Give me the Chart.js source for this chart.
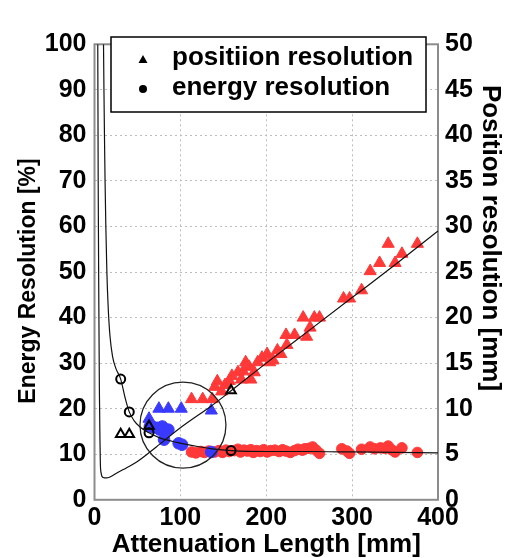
<!DOCTYPE html>
<html>
<head>
<meta charset="utf-8">
<script src="https://cdn.jsdelivr.net/npm/chart.js@4.4.0/dist/chart.umd.min.js"></script>
<style>
  html,body{margin:0;padding:0;background:#fff;}
  #wrap{position:relative;width:508px;height:558px;}
</style>
</head>
<body>
<div id="wrap"><canvas id="chart" width="508" height="558"></canvas></div>
<script>
// values
// x = attenuation length [mm]; energy in %, position in mm (right axis)
const redTriX = [113, 126, 137, 140, 143, 148, 152, 157, 160, 167, 171, 173, 176, 180, 182, 186, 190, 195, 201, 204, 208, 213, 217, 223, 224, 233, 243, 247, 251, 256, 262, 290, 297, 311, 321, 332, 342, 350, 358, 376];
const redTriY = [11.05, 11.05, 11.05, 12.4, 13.0, 11.9, 12.6, 13.05, 13.6, 14.0, 13.2, 14.1, 15.1, 14.6, 13.2, 14.0, 15.1, 15.6, 16.0, 15.1, 15.3, 16.4, 16.0, 18.1, 17.0, 18.1, 20.0, 17.9, 18.9, 20.0, 20.0, 22.1, 22.1, 23.0, 25.1, 26.0, 28.1, 26.0, 27.0, 28.1];

const redDotX = [113, 118, 124, 128, 133, 140, 145, 149, 153, 157, 163, 167, 170, 174, 178, 182, 185, 189, 193, 197, 201, 205, 210, 215, 219, 223, 228, 233, 237, 242, 245, 250, 254, 258, 262, 288, 294, 297, 311, 321, 326, 333, 338, 342, 346, 350, 358, 376];
const redDotY = [10.5, 10.3, 10.6, 10.4, 10.7, 10.5, 10.8, 10.4, 10.9, 10.6, 10.8, 11.1, 10.5, 10.9, 10.7, 11.0, 10.4, 10.8, 10.6, 11.0, 10.5, 10.8, 10.9, 10.6, 11.0, 10.7, 10.4, 10.8, 11.1, 10.9, 11.2, 11.3, 11.6, 10.9, 10.2, 11.2, 10.7, 10.2, 11.1, 11.6, 11.2, 11.4, 11.3, 11.8, 11.0, 10.5, 11.4, 10.4];

const blueTriX = [63.5, 75, 86, 101, 136];
const blueTriY = [8.9, 10.0, 10.0, 10.0, 9.8];

const blueDotX = [64.5, 68, 73, 76, 79, 83, 86, 81, 98, 102, 136];
const blueDotY = [16.1, 16.0, 15.8, 15.4, 16.1, 15.3, 15.4, 13.2, 12.4, 12.1, 10.5];

const openTriX = [30.5, 40.5, 63.5, 159];
const openTriY = [7.2, 7.2, 8.1, 12.0];
const openDotX = [30.5, 40.5, 63.5, 159];
const openDotY = [26.5, 19.3, 14.7, 10.8];

const energyCurveX = [10.5, 11, 11.6, 12.3, 13.2, 14.4, 16, 18, 21, 25, 30.5, 35.5, 40.5, 46, 53, 63.5, 76, 96, 120, 137, 160, 200, 250, 300, 350, 400];
const energyCurveY = [100, 90, 80, 70, 60, 50, 42, 36, 31.5, 28.8, 26.5, 22.5, 19.3, 17.4, 16.0, 14.7, 13.6, 12.6, 11.7, 11.2, 10.8, 10.6, 10.6, 10.5, 10.4, 10.3];

const posCurveX = [3.8, 4.3, 5, 5.7, 6.3, 6.8, 7.8, 10, 14, 18, 27, 37, 50, 72, 100, 136, 150, 200, 250, 300, 350, 400];
const posCurveY = [50, 35, 22, 12, 7, 4, 2.9, 2.45, 2.4, 2.5, 3.0, 3.5, 4.2, 5.8, 7.9, 10.3, 11.3, 15.0, 18.6, 22.2, 25.8, 29.5];

const circleX = [103];
const circleY = [16.4];

const xTicks = [0, 400, 100];   // min, max, step
const yTicks = [0, 100, 10];
const y2Ticks = [0, 50, 5];

const legendLabels = ['positiion resolution', 'energy resolution'];
const yTitle = 'Energy Resolution [%]';
const y2Title = 'Position resolution [mm]';

const pts = (xs, ys) => xs.map((x, i) => ({x, y: ys[i]}));

const RED = '#ff3838';
const BLUE = '#3a3aff';
const FONT = 'Liberation Sans, Arial, Helvetica, sans-serif';

// frame around the plot area
const framePlugin = {
  id: 'frame',
  beforeDatasetsDraw(chart){
    const a = chart.chartArea, ctx = chart.ctx;
    ctx.save();
    ctx.strokeStyle = '#8c8c8c';
    ctx.lineWidth = 2;
    ctx.strokeRect(a.left, a.top, a.right - a.left, a.bottom - a.top);
    ctx.restore();
  }
};

// boxed legend in top-left of the plot
const legendPlugin = {
  id: 'boxLegend',
  afterDatasetsDraw(chart){
    const ctx = chart.ctx;
    const bx = 111, by = 37, bw = 315, bh = 75;
    ctx.save();
    ctx.fillStyle = '#fff';
    ctx.fillRect(bx, by, bw, bh);
    ctx.strokeStyle = '#000';
    ctx.lineWidth = 1.5;
    ctx.strokeRect(bx, by, bw, bh);

    ctx.fillStyle = '#000';
    const tx = 143, ty = 60, r = 5;
    ctx.beginPath();
    ctx.moveTo(tx, ty - r);
    ctx.lineTo(tx + r * 0.9, ty + r * 0.6);
    ctx.lineTo(tx - r * 0.9, ty + r * 0.6);
    ctx.closePath();
    ctx.fill();
    ctx.beginPath();
    ctx.arc(143, 89, 4, 0, Math.PI * 2);
    ctx.fill();

    ctx.font = 'bold 26px ' + FONT;
    ctx.textBaseline = 'middle';
    ctx.textAlign = 'left';
    ctx.fillText(legendLabels[0], 172, 58);
    ctx.fillText(legendLabels[1], 172, 88);
    ctx.restore();
  }
};

// rotated side titles (placed a bit off-centre like the original)
const sideTitles = {
  id: 'sideTitles',
  afterDraw(chart){
    const ctx = chart.ctx;
    ctx.save();
    ctx.fillStyle = '#000';
    ctx.textAlign = 'center';
    ctx.textBaseline = 'middle';

    ctx.font = 'bold 23px ' + FONT;
    ctx.save();
    ctx.translate(29, 281);
    ctx.rotate(-Math.PI / 2);
    ctx.fillText(yTitle, 0, 0);
    ctx.restore();

    ctx.font = 'bold 26px ' + FONT;
    ctx.translate(490, 238);
    ctx.rotate(Math.PI / 2);
    ctx.fillText(y2Title, 0, 0);
    ctx.restore();
  }
};

const edgeClear = (lo, hi, col) => (c) => (c.tick && (c.tick.value === lo || c.tick.value === hi)) ? 'rgba(0,0,0,0)' : col;

new Chart(document.getElementById('chart'), {
  type: 'scatter',
  data: {
    datasets: [
      {
        label: 'circle',
        data: pts(circleX, circleY),
        yAxisID: 'y',
        pointStyle: 'circle',
        pointRadius: 43,
        pointHoverRadius: 43,
        backgroundColor: 'rgba(0,0,0,0)',
        borderColor: '#222',
        borderWidth: 1.3,
        order: 0
      },
      {
        label: 'energy curve',
        type: 'line',
        data: pts(energyCurveX, energyCurveY),
        yAxisID: 'y',
        borderColor: '#111',
        borderWidth: 1.2,
        pointRadius: 0,
        fill: false,
        cubicInterpolationMode: 'monotone',
        order: 1
      },
      {
        label: 'position curve',
        type: 'line',
        data: pts(posCurveX, posCurveY),
        yAxisID: 'y2',
        borderColor: '#111',
        borderWidth: 1.2,
        pointRadius: 0,
        fill: false,
        cubicInterpolationMode: 'monotone',
        order: 1
      },
      {
        label: 'open tri',
        data: pts(openTriX, openTriY),
        yAxisID: 'y2',
        pointStyle: 'triangle',
        pointRadius: 5.5,
        backgroundColor: 'rgba(0,0,0,0)',
        borderColor: '#000',
        borderWidth: 2,
        order: 2
      },
      {
        label: 'open dot',
        data: pts(openDotX, openDotY),
        yAxisID: 'y',
        pointStyle: 'circle',
        pointRadius: 4.5,
        backgroundColor: 'rgba(0,0,0,0)',
        borderColor: '#000',
        borderWidth: 2,
        order: 2
      },
      {
        label: 'blue tri',
        data: pts(blueTriX, blueTriY),
        yAxisID: 'y2',
        pointStyle: 'triangle',
        pointRadius: 7,
        backgroundColor: BLUE,
        borderColor: BLUE,
        borderWidth: 1,
        order: 3
      },
      {
        label: 'blue dot',
        data: pts(blueDotX, blueDotY),
        yAxisID: 'y',
        pointStyle: 'circle',
        pointRadius: 5.8,
        backgroundColor: BLUE,
        borderColor: BLUE,
        borderWidth: 1,
        order: 3
      },
      {
        label: 'red tri',
        data: pts(redTriX, redTriY),
        yAxisID: 'y2',
        pointStyle: 'triangle',
        pointRadius: 7,
        backgroundColor: RED,
        borderColor: RED,
        borderWidth: 1,
        order: 4
      },
      {
        label: 'red dot',
        data: pts(redDotX, redDotY),
        yAxisID: 'y',
        pointStyle: 'circle',
        pointRadius: 5.3,
        backgroundColor: RED,
        borderColor: RED,
        borderWidth: 1,
        order: 4
      }
    ]
  },
  options: {
    responsive: false,
    animation: false,
    devicePixelRatio: 1,
    layout: { padding: { top: 24.3, left: 0, right: 0, bottom: 0 } },
    plugins: {
      legend: { display: false },
      tooltip: { enabled: false }
    },
    scales: {
      x: {
        type: 'linear',
        position: 'bottom',
        min: xTicks[0], max: xTicks[1],
        ticks: { stepSize: xTicks[2], color: '#000', padding: 3, autoSkip: false, maxRotation: 0,
                 font: { family: FONT, size: 25, weight: 'bold' } },
        grid: { color: edgeClear(xTicks[0], xTicks[1], '#bdbdbd'), lineWidth: 1, drawTicks: false },
        border: { display: false, dash: [2, 3] },
        title: { display: true, text: 'Attenuation Length [mm]', color: '#000', padding: { top: 0, bottom: -2 },
                 font: { family: FONT, size: 26, weight: 'bold' } },
        afterFit(s){ s.height = 58.2; }
      },
      y: {
        type: 'linear',
        position: 'left',
        min: yTicks[0], max: yTicks[1],
        ticks: { stepSize: yTicks[2], color: '#000', padding: 8, autoSkip: false,
                 font: { family: FONT, size: 25, weight: 'bold' } },
        grid: { color: edgeClear(yTicks[0], yTicks[1], '#bdbdbd'), lineWidth: 1, drawTicks: false },
        border: { display: false, dash: [2, 3] },
        title: { display: false },
        afterFit(s){ s.width = 94.5; }
      },
      y2: {
        type: 'linear',
        position: 'right',
        min: y2Ticks[0], max: y2Ticks[1],
        ticks: { stepSize: y2Ticks[2], color: '#000', padding: 7, autoSkip: false,
                 font: { family: FONT, size: 25, weight: 'bold' } },
        grid: { display: false, drawTicks: false },
        border: { display: false },
        title: { display: false },
        afterFit(s){ s.width = 70; }
      }
    }
  },
  plugins: [framePlugin, legendPlugin, sideTitles]
});
</script>
</body>
</html>
